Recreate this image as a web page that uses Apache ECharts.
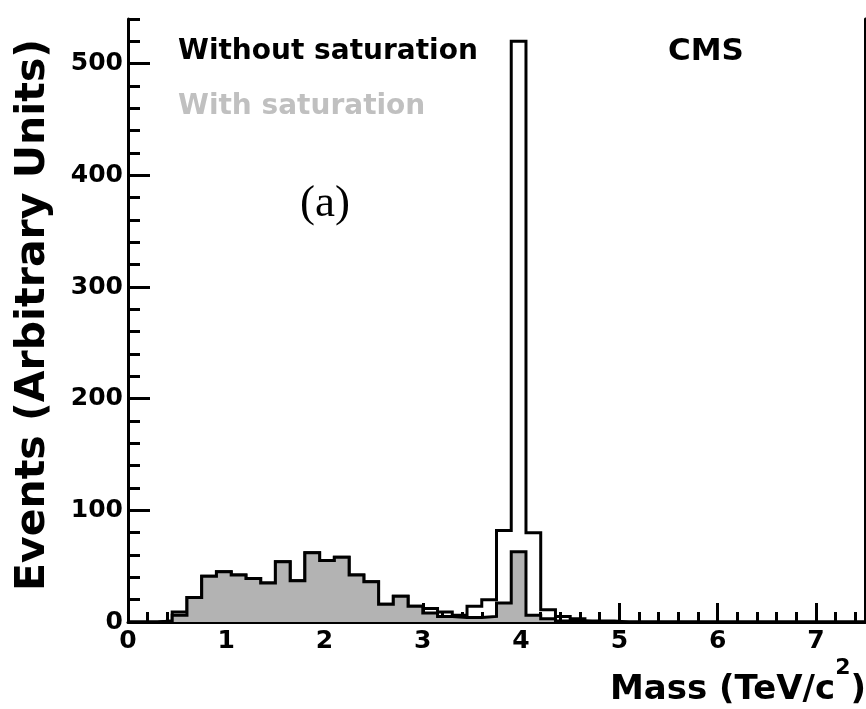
<!DOCTYPE html>
<html><head><meta charset="utf-8">
<script src="https://cdn.jsdelivr.net/npm/echarts@6/dist/echarts.min.js"></script>
<style>html,body{margin:0;padding:0;background:#fff}#c{width:866px;height:709px}</style>
</head><body><div id="c"></div>
<script>
// Bin left edges (TeV/c^2), bin upper limit of the last bin
const binLeft = [0.00,0.15,0.30,0.45,0.60,0.75,0.90,1.05,1.20,1.35,
                 1.50,1.65,1.80,1.95,2.10,2.25,2.40,2.55,2.70,2.85,
                 3.00,3.15,3.30,3.45,3.60,3.75,3.90,4.05,4.20,4.35,
                 4.50,4.65,4.80,4.95,5.10,5.25,5.40,5.55,5.70,5.85,
                 6.00,6.15,6.30,6.45,6.60,6.75,6.90,7.05,7.20,7.35];
const lastEdge = 7.5;
// Without saturation (open histogram)
const withoutSat = [0,0,1,9,22,41,45,42,39,35,
                    54,37,62,55,58,42,36,16,23,14,
                    12,9,6,14,20,82,520,80,11,5,
                    3,1,1,0,0,0,0,0,0,0,
                    0,0,0,0,0,0,0,0,0,0];
// With saturation (grey filled histogram)
const withSat = [0,0,1,6,22,41,45,42,39,35,
                 54,37,62,55,58,42,36,16,23,14,
                 8,5,4,4,5,17,63,6,3,1,
                 1,0,0,0,0,0,0,0,0,0,
                 0,0,0,0,0,0,0,0,0,0];
const xRange = [0, 7.5];
const yRange = [0, 540];
const xMajor = 1, xMinor = 0.2, yMajor = 100, yMinor = 20;

const toStep = vals => binLeft.map((x, i) => [x, vals[i]]).concat([[lastEdge, 0]]);

const tickFont = {fontFamily: 'DejaVu Sans', fontWeight: 'bold', fontSize: 25, color: '#000'};
const blk = {color: '#000', width: 3};

const chart = echarts.init(document.getElementById('c'));
chart.setOption({
  animation: false,
  grid: {left: 128, right: 1, top: 19, bottom: 87},
  xAxis: [
    {type: 'value', min: xRange[0], max: xRange[1], interval: xMajor, position: 'bottom',
     axisLine: {show: true, onZero: false, lineStyle: blk},
     axisTick: {inside: true, length: 19, lineStyle: blk},
     axisLabel: Object.assign({}, tickFont, {margin: 7, showMaxLabel: false,
       formatter: v => Number.isInteger(v) ? String(v) : ''}),
     splitLine: {show: false}},
    {type: 'value', min: xRange[0], max: xRange[1], interval: xMinor, position: 'bottom',
     axisLine: {show: false}, axisTick: {inside: true, length: 10, lineStyle: blk},
     axisLabel: {show: false}, splitLine: {show: false}}
  ],
  yAxis: [
    {type: 'value', min: yRange[0], max: yRange[1], interval: yMajor, position: 'left',
     axisLine: {show: true, onZero: false, lineStyle: blk},
     axisTick: {inside: true, length: 22, lineStyle: blk},
     axisLabel: Object.assign({}, tickFont, {margin: 5, showMaxLabel: false,
       formatter: v => (v % 100 === 0) ? String(v) : ''}),
     splitLine: {show: false}},
    {type: 'value', min: yRange[0], max: yRange[1], interval: yMinor, position: 'left',
     axisLine: {show: false}, axisTick: {inside: true, length: 12, lineStyle: blk},
     axisLabel: {show: false}, splitLine: {show: false}},
    {type: 'value', min: yRange[0], max: yRange[1], position: 'right',
     axisLine: {show: true, onZero: false, lineStyle: blk}, axisTick: {show: false},
     axisLabel: {show: false}, splitLine: {show: false}}
  ],
  series: [
    {name: 'Without saturation', type: 'line', step: 'end', xAxisIndex: 0, yAxisIndex: 0,
     data: toStep(withoutSat), symbol: 'none', z: 3,
     lineStyle: {color: '#000', width: 3, join: 'miter'}},
    {name: 'With saturation', type: 'line', step: 'end', xAxisIndex: 0, yAxisIndex: 0,
     data: toStep(withSat), symbol: 'none', z: 4,
     lineStyle: {color: '#000', width: 3, join: 'miter'},
     areaStyle: {color: '#b3b3b3', opacity: 1}}
  ],
  graphic: [
    {type: 'text', x: 178, y: 52, z: 10, style: {text: 'Without saturation', font: 'bold 28px "DejaVu Sans"', fill: '#000', align: 'left', verticalAlign: 'middle'}},
    {type: 'text', x: 178, y: 107, z: 10, style: {text: 'With saturation', font: 'bold 28px "DejaVu Sans"', fill: '#c0c0c0', align: 'left', verticalAlign: 'middle'}},
    {type: 'text', x: 668, y: 52, z: 10, style: {text: 'CMS', font: 'bold 31px "DejaVu Sans"', fill: '#000', align: 'left', verticalAlign: 'middle'}},
    {type: 'text', x: 300, y: 204, z: 10, style: {text: '(a)', font: '45px "Liberation Serif"', fill: '#000', align: 'left', verticalAlign: 'middle'}},
    {type: 'text', x: 33, y: 315, rotation: Math.PI / 2, z: 10, style: {text: 'Events (Arbitrary Units)', font: 'bold 41px "DejaVu Sans"', fill: '#000', align: 'center', verticalAlign: 'middle'}},
    {type: 'text', x: 866, y: 682, z: 10, style: {
      text: '{a|Mass (TeV/c}{s|2}{a|)}', align: 'right', verticalAlign: 'middle',
      rich: {
        a: {font: 'bold 34px "DejaVu Sans"', fill: '#000', lineHeight: 50, verticalAlign: 'bottom'},
        s: {font: 'bold 22px "DejaVu Sans"', fill: '#000', lineHeight: 24, verticalAlign: 'top'}
      }}}
  ]
});
</script></body></html>
